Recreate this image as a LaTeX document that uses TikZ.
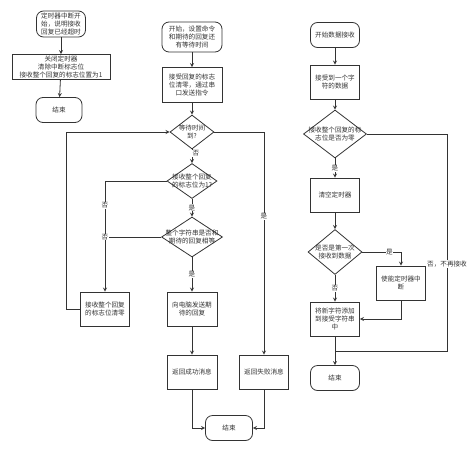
\documentclass[tikz,border=0pt]{standalone}
\usepackage{fontspec}
\newfontfamily\cjk{Noto Sans CJK SC}
\usetikzlibrary{shapes.geometric}
\tikzset{
  txt/.style={font=\cjk\fontsize{6.6}{8}\selectfont, text=black!80, align=center},
  base/.style={txt, draw=black!80, fill=white, inner sep=1pt},
  terminal/.style={base, rectangle, rounded corners=7pt, minimum width=49pt, minimum height=25pt},
  process/.style={base, rectangle, minimum width=49pt, minimum height=34pt},
  decision/.style n args={2}{base, diamond, inner sep=0pt, minimum width=#1, minimum height=#2},
  lbl/.style={txt, fill=white, inner sep=0.6pt},
}
\begin{document}
\begin{tikzpicture}[>=stealth, x=1pt, y=-1pt, line width=0.8pt, draw=black!80]
\useasboundingbox (0,0) rectangle (474,453);
% left: timer interrupt
\node[terminal, minimum height=26pt] (ta) at (61,24) {定时器中断开\\始，说明接收\\回复已经超时};
\node[process, minimum width=98pt, minimum height=25pt] (pa) at (61,67) {关闭定时器\\清除中断标志位\\接收整个回复的标志位置为1};
\node[terminal, minimum width=46pt] (ea) at (59,110) {结束};
\draw[->] (ta) -- (pa);
\draw[->] (pa) -- (ea);
% middle: send command and wait
\node[terminal, minimum width=60pt, minimum height=30pt] (tb) at (192,37) {开始，设置命令\\和期待的回复还\\有等待时间};
\node[process, minimum width=60pt, minimum height=35pt] (pb) at (192,85) {接受回复的标志\\位清零，通过串\\口发送指令};
\node[decision={44pt}{34pt}, label={[txt]center:等待时间\\到?}] (db1) at (192,132) {};
\node[decision={50pt}{35pt}, label={[txt]center:接收整个回复\\的标志位为1?}] (db2) at (192,181) {};
\node[decision={61pt}{40pt}, label={[txt]center:整个字符串是否和\\期待的回复相等}] (db3) at (192,237) {};
\node[process, minimum width=50pt] (pb2) at (192,309) {向电脑发送期\\待的回复};
\node[process, minimum width=50pt] (pb3) at (192,372) {返回成功消息};
\node[process] (pb4) at (264,372) {返回失败消息};
\node[terminal, minimum width=47pt] (eb) at (229,428) {结束};
\node[process] (pb5) at (105,309) {接收整个回复\\的标志位清零};
\coordinate (lb) at (66,132);
\draw[->] (tb) -- (pb);
\draw[->] (pb) -- (db1);
\draw[->] (db1) -- node[lbl, pos=0.3, xshift=4pt]{否} (db2);
\draw[->] (db2) -- node[lbl]{是} (db3);
\draw[->] (db3) -- node[lbl]{是} (pb2);
\draw[->] (pb2) -- (pb3);
\draw[->] (pb3) |- (eb);
\draw[->] (pb4) |- (eb);
\draw[->] (db1) -| node[lbl, pos=0.69]{是} (pb4);
\draw[->] (db2) -| node[lbl, pos=0.61]{否} (pb5);
\draw (db3) -- node[lbl, pos=1]{否} (db3 -| pb5);
\draw[->] (pb5) -| (lb) -- (db1);
% right: data receive
\node[terminal] (tc) at (335,35) {开始数据接收};
\node[process] (pc1) at (335,82) {接受到一个字\\符的数据};
\node[decision={63pt}{48pt}, label={[txt]center:接收整个回复的标\\志位是否为零}] (dc1) at (335,134) {};
\node[process] (pc2) at (335,195) {清空定时器};
\node[decision={54pt}{45pt}, label={[txt]center:是否是第一次\\接收到数据}] (dc2) at (335,252) {};
\node[process] (pc3) at (401,283) {使能定时器中\\断};
\node[process] (pc4) at (335,319) {将新字符添加\\到接受字符串\\中};
\node[terminal] (ec) at (335,378) {结束};
\coordinate (rc) at (447,351);
\draw[->] (tc) -- (pc1);
\draw[->] (pc1) -- (dc1);
\draw[->] (dc1) -- node[lbl]{是} (pc2);
\draw[->] (pc2) -- (dc2);
\draw[->] (dc2) -| node[lbl, pos=0.35]{是} (pc3);
\draw[->] (dc2) -- node[lbl]{否} (pc4);
\draw[->] (pc3) |- (pc4);
\draw[->] (pc4) -- (ec);
\draw (dc1) -| node[lbl, pos=0.8]{否，不再接收} (rc) -- (rc -| pc4);
\end{tikzpicture}
\end{document}
